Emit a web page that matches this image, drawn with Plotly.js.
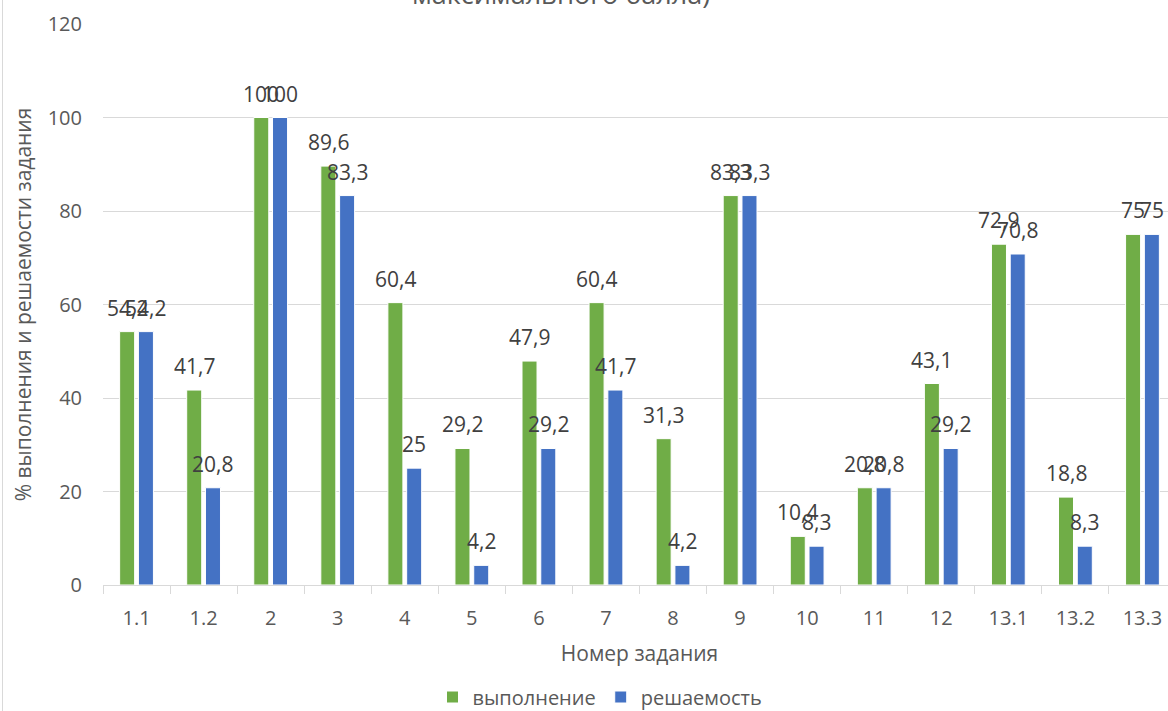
<!DOCTYPE html>
<html>
<head>
<meta charset="utf-8">
<script src="https://cdn.plot.ly/plotly-3.0.1.min.js"></script>
<style>
  html, body { margin: 0; padding: 0; background: #ffffff; overflow: hidden; width: 1168px; height: 711px; }
  #chart { position: absolute; left: 0; top: 0; width: 1180px; height: 711px; }
  #border { position: absolute; left: 2px; top: 0; width: 1px; height: 711px; background: #d9d9d9; }
</style>
</head>
<body>
<div id="chart"></div>
<div id="border"></div>
<script>
const categories = ['1.1', '1.2', '2', '3', '4', '5', '6', '7', '8', '9', '10', '11', '12', '13.1', '13.2', '13.3'];
const vypolnenie = [54.2, 41.7, 100, 89.6, 60.4, 29.2, 47.9, 60.4, 31.3, 83.3, 10.4, 20.8, 43.1, 72.9, 18.8, 75];
const reshaemost = [54.2, 20.8, 100, 83.3, 25, 4.2, 29.2, 41.7, 4.2, 83.3, 8.3, 20.8, 29.2, 70.8, 8.3, 75];
const seriesNames = ['выполнение', 'решаемость'];
const titleText = 'максимального балла)';
const xTitle = 'Номер задания';
const yTitle = '% выполнения и решаемости задания';

const FONT = 'Open Sans, Noto Sans, sans-serif';
const GREEN = '#70AD47';
const BLUE = '#4472C4';
const TXT = '#595959';

const fmt = v => String(v).replace('.', ',');

const traces = [
  {
    type: 'bar', name: seriesNames[0], x: categories, y: vypolnenie,
    marker: { color: GREEN, line: { color: '#ffffff', width: 1 } },
    hoverinfo: 'x+y'
  },
  {
    type: 'bar', name: seriesNames[1], x: categories, y: reshaemost,
    marker: { color: BLUE, line: { color: '#ffffff', width: 1 } },
    hoverinfo: 'x+y'
  }
];

const L = 103, R = 4, T = 24, B = 126, W = 1180, H = 711;
const plotW = W - L - R;
const plotH = H - T - B;
const bargap = 0.44;
const slot = (plotW / categories.length) * (1 - bargap) / 2;

const annotations = [];
categories.forEach((c, i) => {
  // category axes: annotation x given as the category index
  annotations.push({
    x: i, y: vypolnenie[i], xref: 'x', yref: 'y', text: fmt(vypolnenie[i]),
    showarrow: false, xshift: -slot / 2, yshift: 24, yanchor: 'middle', xanchor: 'center',
    font: { family: FONT, size: 21, color: '#404040' }
  });
  annotations.push({
    x: i, y: reshaemost[i], xref: 'x', yref: 'y', text: fmt(reshaemost[i]),
    showarrow: false, xshift: slot / 2, yshift: 24, yanchor: 'middle', xanchor: 'center',
    font: { family: FONT, size: 21, color: '#404040' }
  });
});
annotations.push({
  xref: 'paper', yref: 'paper', x: (561 - L) / plotW, y: (585 - 14) / plotH,
  xanchor: 'center', yanchor: 'bottom', showarrow: false, text: titleText,
  font: { family: FONT, size: 27, color: TXT }
});

const layout = {
  width: W, height: H,
  margin: { l: L, r: R, t: T, b: B, pad: 0, autoexpand: false },
  paper_bgcolor: '#ffffff', plot_bgcolor: '#ffffff',
  font: { family: FONT, color: TXT },
  barmode: 'group', bargap: bargap, bargroupgap: 0.2,
  showlegend: true,
  legend: {
    orientation: 'h', x: (600 - L) / plotW, xanchor: 'center',
    y: (585 - 697) / plotH, yanchor: 'middle',
    font: { family: FONT, size: 20, color: TXT },
    bgcolor: 'rgba(0,0,0,0)'
  },
  xaxis: {
    type: 'category', tickson: 'boundaries', ticks: 'outside', ticklen: 8,
    tickcolor: '#d9d9d9', tickwidth: 1, showline: true, linecolor: '#d9d9d9', linewidth: 1,
    showgrid: false, zeroline: false,
    ticklabelstandoff: 15,
    tickfont: { family: FONT, size: 20, color: TXT },
    title: { text: xTitle, font: { family: FONT, size: 21, color: TXT }, standoff: 16 },
    automargin: false, fixedrange: true
  },
  yaxis: {
    range: [0, 120], dtick: 20, tick0: 0, showgrid: true, gridcolor: '#d9d9d9', gridwidth: 1,
    zeroline: false, showline: false, ticks: '',
    ticklabelstandoff: 20,
    tickfont: { family: FONT, size: 20, color: TXT },
    title: { text: yTitle, font: { family: FONT, size: 21, color: TXT }, standoff: 10 },
    automargin: false, fixedrange: true
  },
  annotations: annotations
};

Plotly.newPlot('chart', traces, layout, { displayModeBar: false, staticPlot: false });
</script>
</body>
</html>
